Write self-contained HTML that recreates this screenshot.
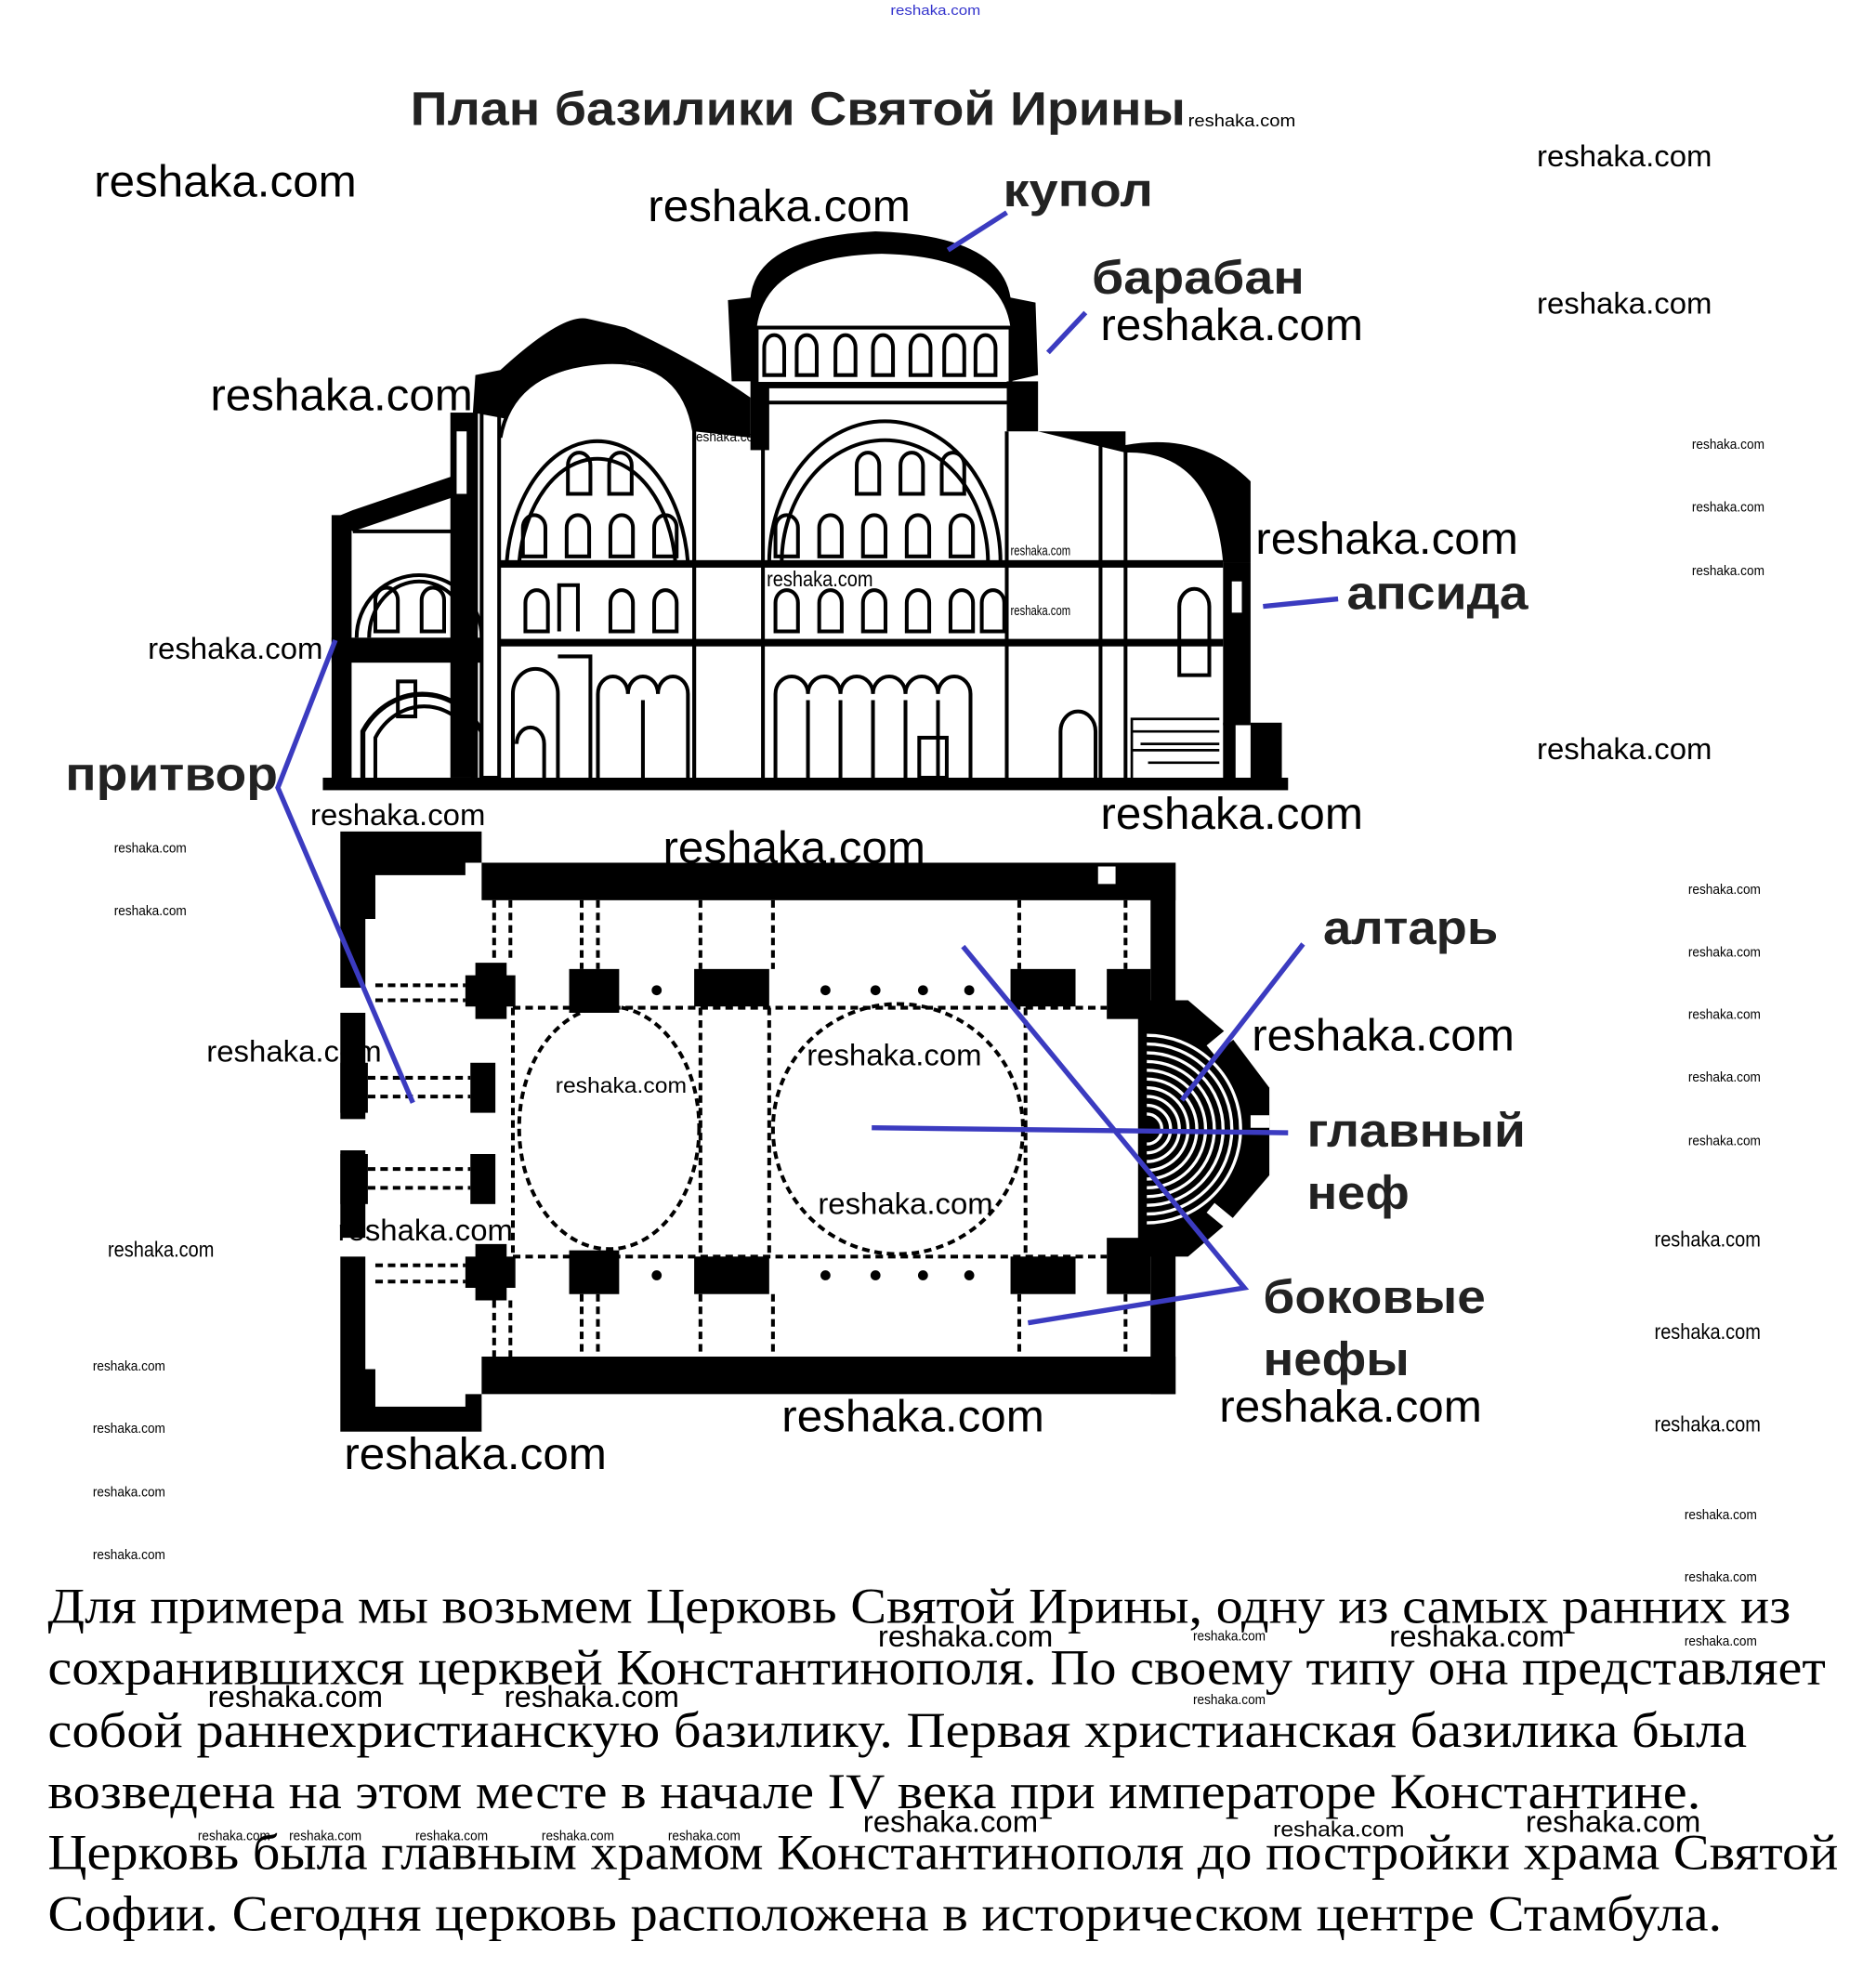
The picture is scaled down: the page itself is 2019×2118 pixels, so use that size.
<!DOCTYPE html>
<html><head><meta charset="utf-8"><style>
html,body{margin:0;padding:0;background:#fff;}
svg{display:block;}
.wl{font-family:"Liberation Sans",sans-serif;fill:#000;}
.lb{font-family:"Liberation Sans",sans-serif;font-weight:bold;fill:#222;}
.tx{font-family:"Liberation Serif",serif;fill:#000;font-size:40px;}
</style></head><body>
<svg width="2019" height="2118" viewBox="0 0 1500 1574" xmlns="http://www.w3.org/2000/svg">
<rect width="1500" height="1574" fill="#fff"/>
<text x="712" y="12" font-size="11" fill="#3333cc" class="wl" style="fill:#3333cc" textLength="72" lengthAdjust="spacingAndGlyphs">reshaka.com</text>
<text x="328" y="100" font-size="38" class="lb" textLength="620" lengthAdjust="spacingAndGlyphs">План базилики Святой Ирины</text>

<!-- ELEVATION -->
<g stroke="#000" fill="none" stroke-width="3">
<rect x="258" y="622" width="772" height="10" fill="#000" stroke="none"/>
<rect x="265" y="412" width="16" height="212" fill="#000" stroke="none"/>
<path d="M265 415 L282 408 L370 378 L370 395 L282 425 Z" fill="#000" stroke="none"/>
<line x1="282" y1="425" x2="370" y2="425"/>
<rect x="265" y="510" width="135" height="20" fill="#000" stroke="none"/>
<path d="M285 510 A50 50 0 0 1 385 510" stroke-width="3"/>
<path d="M295 510 A40 45 0 0 1 375 510"/>
<path d="M290 622 L290 585 A55 60 0 0 1 385 585 L385 622" stroke-width="4"/>
<path d="M300 622 L300 590 A45 50 0 0 1 378 590 L378 622"/>
<rect x="318" y="545" width="14" height="28"/>
<rect x="360" y="330" width="22" height="292" fill="#000" stroke="none"/>
<rect x="365" y="345" width="8" height="50" fill="#fff" stroke="none"/>
<rect x="385" y="330" width="14" height="292" fill="#fff" stroke-width="3"/>
<path d="M378 330 L380 300 L400 296 Q450 250 470 255 L500 262 Q560 290 600 318 L600 350 L555 345 Q540 280 480 290 Q415 300 405 335 Z" fill="#000" stroke="none"/>
<path d="M400 350 Q410 295 480 290 Q545 285 555 345 L555 622"/>
<path d="M405 450 A73 110 0 0 1 550 450"/>
<path d="M415 450 A63 95 0 0 1 540 450"/>
<rect x="600" y="300" width="15" height="60" fill="#000" stroke="none"/>
<line x1="555" y1="345" x2="555" y2="622"/>
<line x1="610" y1="345" x2="610" y2="622"/>
<path d="M582 240 L600 238 Q605 190 700 185 Q800 188 808 238 L828 242 L830 300 L808 305 L808 262 Q800 205 705 203 Q612 205 605 262 L605 305 L585 305 Z" fill="#000" stroke="none"/>
<rect x="605" y="262" width="203" height="45" fill="#fff"/>
<line x1="605" y1="308" x2="808" y2="308" stroke-width="5"/>
<line x1="610" y1="322" x2="805" y2="322"/>
<rect x="805" y="305" width="25" height="40" fill="#000" stroke="none"/>
<path d="M830 345 L900 345 L900 356 Q960 345 1000 385 L1000 450 L978 450 Q970 360 900 362" fill="#000" stroke="none"/>
<line x1="805" y1="345" x2="805" y2="622"/>
<line x1="880" y1="355" x2="880" y2="622"/>
<line x1="900" y1="360" x2="900" y2="622"/>
<rect x="978" y="450" width="22" height="130" fill="#000" stroke="none"/>
<rect x="985" y="465" width="8" height="25" fill="#fff" stroke="none"/>
<rect x="1000" y="578" width="25" height="46" fill="#000" stroke="none"/>
<rect x="978" y="578" width="10" height="46" fill="#000" stroke="none"/>
<path d="M905 622 L905 575 L975 575 M912 595 L975 595 M918 610 L975 610 M905 585 L975 585 M905 600 L975 600" stroke-width="2"/>
<path d="M943 540 L943 485 A12 14 0 0 1 967 485 L967 540 Z"/>
<path d="M848 622 L848 585 A14 16 0 0 1 876 585 L876 622"/>
<path d="M615 450 A90 110 0 0 1 800 450"/>
<path d="M625 450 A80 95 0 0 1 790 450"/>
<rect x="400" y="448" width="578" height="6" fill="#000" stroke="none"/>
<rect x="400" y="511" width="578" height="6" fill="#000" stroke="none"/>
</g>
<g stroke="#000" stroke-width="3" fill="none">
<path d="M454 395 V372 a9 10 0 0 1 18 0 V395 Z M487 395 V372 a9 10 0 0 1 18 0 V395 Z"/>
<path d="M418 445 V422 a9 10 0 0 1 18 0 V445 Z M453 445 V422 a9 10 0 0 1 18 0 V445 Z M488 445 V422 a9 10 0 0 1 18 0 V445 Z M523 445 V422 a9 10 0 0 1 18 0 V445 Z"/>
<path d="M420 505 V482 a9 10 0 0 1 18 0 V505 Z M488 505 V482 a9 10 0 0 1 18 0 V505 Z M523 505 V482 a9 10 0 0 1 18 0 V505 Z M447 505 V468 H462 V505"/>
<path d="M685 395 V372 a9 10 0 0 1 18 0 V395 Z M720 395 V372 a9 10 0 0 1 18 0 V395 Z M753 395 V372 a9 10 0 0 1 18 0 V395 Z"/>
<path d="M620 445 V422 a9 10 0 0 1 18 0 V445 Z M655 445 V422 a9 10 0 0 1 18 0 V445 Z M690 445 V422 a9 10 0 0 1 18 0 V445 Z M725 445 V422 a9 10 0 0 1 18 0 V445 Z M760 445 V422 a9 10 0 0 1 18 0 V445 Z"/>
<path d="M620 505 V482 a9 10 0 0 1 18 0 V505 Z M655 505 V482 a9 10 0 0 1 18 0 V505 Z M690 505 V482 a9 10 0 0 1 18 0 V505 Z M725 505 V482 a9 10 0 0 1 18 0 V505 Z M760 505 V482 a9 10 0 0 1 18 0 V505 Z M785 505 V482 a9 10 0 0 1 18 0 V505 Z"/>
<path d="M300 505 V480 a9 10 0 0 1 18 0 V505 Z M337 505 V480 a9 10 0 0 1 18 0 V505 Z"/>
<path d="M611 300 V278 a8 10 0 0 1 16 0 V300 Z M637 300 V278 a8 10 0 0 1 16 0 V300 Z M668 300 V278 a8 10 0 0 1 16 0 V300 Z M698 300 V278 a8 10 0 0 1 16 0 V300 Z M728 300 V278 a8 10 0 0 1 16 0 V300 Z M755 300 V278 a8 10 0 0 1 16 0 V300 Z M780 300 V278 a8 10 0 0 1 16 0 V300 Z"/>
<path d="M410 622 V555 a18 20 0 0 1 36 0 V622 M413 595 a10 12 0 0 1 22 0 V622 M446 525 H472 V622"/>
<path d="M478 622 V555 a12 14 0 0 1 24 0 a12 14 0 0 1 24 0 a12 14 0 0 1 24 0 V622 M514 560 V622"/>
<path d="M620 622 V555 a13 14 0 0 1 26 0 a13 14 0 0 1 26 0 a13 14 0 0 1 26 0 a13 14 0 0 1 26 0 a13 14 0 0 1 26 0 a13 14 0 0 1 26 0 V622 M646 560 V622 M672 560 V622 M698 560 V622 M724 560 V622 M750 560 V622"/>
<rect x="735" y="590" width="22" height="32"/>
</g>

<!-- PLAN -->
<g fill="#000">
<path d="M272 665 H385 V690 H372 V700 H300 V735 H292 V790 H272 Z"/>
<path d="M272 810 H292 V895 H272 Z M272 920 H292 V990 H272 Z"/>
<path d="M272 1005 H292 V1095 H300 V1125 H372 V1115 H385 V1145 H272 Z"/>
<rect x="385" y="690" width="555" height="30"/>
<rect x="385" y="1085" width="555" height="30"/>
<rect x="920" y="690" width="20" height="425"/>
<rect x="878" y="693" width="14" height="14" fill="#fff"/>
<path d="M372 780 H380 V770 H405 V780 H412 V805 H405 V815 H380 V805 H372 Z"/>
<path d="M455 775 H495 V810 H455 Z"/>
<rect x="555" y="775" width="60" height="30"/>
<rect x="808" y="775" width="52" height="30"/>
<rect x="885" y="775" width="35" height="40"/>
<path d="M372 1005 H380 V995 H405 V1005 H412 V1030 H405 V1040 H380 V1030 H372 Z"/>
<path d="M455 1000 H495 V1035 H455 Z"/>
<rect x="555" y="1005" width="60" height="30"/>
<rect x="808" y="1005" width="52" height="30"/>
<rect x="885" y="990" width="35" height="45"/>
<rect x="272" y="850" width="22" height="40"/><rect x="376" y="850" width="20" height="40"/>
<rect x="272" y="923" width="22" height="40"/><rect x="376" y="923" width="20" height="40"/>
<circle cx="525" cy="792" r="4"/><circle cx="660" cy="792" r="4"/><circle cx="700" cy="792" r="4"/><circle cx="738" cy="792" r="4"/><circle cx="775" cy="792" r="4"/>
<circle cx="525" cy="1020" r="4"/><circle cx="660" cy="1020" r="4"/><circle cx="700" cy="1020" r="4"/><circle cx="738" cy="1020" r="4"/><circle cx="775" cy="1020" r="4"/>
<path d="M910 800 H950 L985 830 L1015 870 V940 L985 975 L950 1005 H910 Z"/>
</g>
<g stroke="#000" fill="none">
<g stroke-width="3" stroke-dasharray="6 4">
<line x1="300" y1="788" x2="372" y2="788"/><line x1="300" y1="800" x2="372" y2="800"/>
<line x1="294" y1="862" x2="376" y2="862"/><line x1="294" y1="877" x2="376" y2="877"/>
<line x1="294" y1="935" x2="376" y2="935"/><line x1="294" y1="950" x2="376" y2="950"/>
<line x1="300" y1="1012" x2="372" y2="1012"/><line x1="300" y1="1025" x2="372" y2="1025"/>
<line x1="410" y1="806" x2="885" y2="806"/><line x1="410" y1="1005" x2="885" y2="1005"/>
<line x1="410" y1="806" x2="410" y2="1005"/><line x1="560" y1="806" x2="560" y2="1005"/>
<line x1="615" y1="806" x2="615" y2="1005"/><line x1="820" y1="806" x2="820" y2="1005"/>
<line x1="395" y1="720" x2="395" y2="770"/><line x1="408" y1="720" x2="408" y2="770"/>
<line x1="465" y1="720" x2="465" y2="775"/><line x1="478" y1="720" x2="478" y2="775"/>
<line x1="560" y1="720" x2="560" y2="775"/><line x1="618" y1="720" x2="618" y2="775"/>
<line x1="815" y1="720" x2="815" y2="775"/><line x1="900" y1="720" x2="900" y2="775"/>
<line x1="395" y1="1040" x2="395" y2="1085"/><line x1="408" y1="1040" x2="408" y2="1085"/>
<line x1="465" y1="1035" x2="465" y2="1085"/><line x1="478" y1="1035" x2="478" y2="1085"/>
<line x1="560" y1="1035" x2="560" y2="1085"/><line x1="618" y1="1035" x2="618" y2="1085"/>
<line x1="815" y1="1035" x2="815" y2="1085"/><line x1="900" y1="1035" x2="900" y2="1085"/>
<ellipse cx="487" cy="902" rx="72" ry="97"/>
<ellipse cx="718" cy="903" rx="100" ry="100"/>
</g>
<g stroke="#fff" stroke-width="2.5">
<path d="M917 828 A75 75 0 0 1 917 978"/><path d="M917 835 A68 68 0 0 1 917 971"/>
<path d="M917 842 A61 61 0 0 1 917 964"/><path d="M917 849 A54 54 0 0 1 917 957"/>
<path d="M917 856 A47 47 0 0 1 917 950"/><path d="M917 863 A40 40 0 0 1 917 943"/>
<path d="M917 870 A33 33 0 0 1 917 936"/><path d="M917 877 A26 26 0 0 1 917 929"/>
<path d="M917 884 A19 19 0 0 1 917 922"/><path d="M917 891 A12 12 0 0 1 917 915"/>
<line x1="1000" y1="897" x2="1015" y2="897" stroke-width="10"/>
<line x1="968" y1="840" x2="985" y2="826" stroke-width="10"/>
<line x1="968" y1="966" x2="985" y2="980" stroke-width="10"/>
</g>
</g>

<g stroke="#3b3bc0" stroke-width="4" fill="none">
<line x1="758" y1="200" x2="805" y2="170"/>
<line x1="838" y1="282" x2="868" y2="250"/>
<line x1="1010" y1="485" x2="1070" y2="479"/>
<polyline points="268,512 222,630 330,882"/>
<line x1="1042" y1="755" x2="945" y2="880"/>
<line x1="697" y1="902" x2="1030" y2="906"/>
<polyline points="770,757 995,1030 822,1058"/>
</g>

<text x="802" y="165" font-size="38" class="lb" textLength="120" lengthAdjust="spacingAndGlyphs">купол</text>
<text x="873" y="235" font-size="38" class="lb" textLength="170" lengthAdjust="spacingAndGlyphs">барабан</text>
<text x="1077" y="487" font-size="38" class="lb" textLength="145" lengthAdjust="spacingAndGlyphs">апсида</text>
<text x="52" y="632" font-size="38" class="lb" textLength="170" lengthAdjust="spacingAndGlyphs">притвор</text>
<text x="1058" y="755" font-size="38" class="lb" textLength="140" lengthAdjust="spacingAndGlyphs">алтарь</text>
<text x="1045" y="917" font-size="38" class="lb" textLength="175" lengthAdjust="spacingAndGlyphs">главный</text>
<text x="1045" y="967" font-size="38" class="lb" textLength="82" lengthAdjust="spacingAndGlyphs">неф</text>
<text x="1010" y="1050" font-size="38" class="lb" textLength="178" lengthAdjust="spacingAndGlyphs">боковые</text>
<text x="1010" y="1100" font-size="38" class="lb" textLength="117" lengthAdjust="spacingAndGlyphs">нефы</text>

<g class="wl" font-size="36">
<text x="75" y="157" textLength="210" lengthAdjust="spacingAndGlyphs">reshaka.com</text>
<text x="518" y="177" textLength="210" lengthAdjust="spacingAndGlyphs">reshaka.com</text>
<text x="880" y="272" textLength="210" lengthAdjust="spacingAndGlyphs">reshaka.com</text>
<text x="168" y="328" textLength="210" lengthAdjust="spacingAndGlyphs">reshaka.com</text>
<text x="1004" y="443" textLength="210" lengthAdjust="spacingAndGlyphs">reshaka.com</text>
<text x="880" y="663" textLength="210" lengthAdjust="spacingAndGlyphs">reshaka.com</text>
<text x="530" y="690" textLength="210" lengthAdjust="spacingAndGlyphs">reshaka.com</text>
<text x="1001" y="840" textLength="210" lengthAdjust="spacingAndGlyphs">reshaka.com</text>
<text x="625" y="1145" textLength="210" lengthAdjust="spacingAndGlyphs">reshaka.com</text>
<text x="975" y="1137" textLength="210" lengthAdjust="spacingAndGlyphs">reshaka.com</text>
<text x="275" y="1175" textLength="210" lengthAdjust="spacingAndGlyphs">reshaka.com</text>
</g>
<g class="wl" font-size="24">
<text x="1229" y="133" textLength="140" lengthAdjust="spacingAndGlyphs">reshaka.com</text>
<text x="1229" y="251" textLength="140" lengthAdjust="spacingAndGlyphs">reshaka.com</text>
<text x="1229" y="607" textLength="140" lengthAdjust="spacingAndGlyphs">reshaka.com</text>
<text x="118" y="527" textLength="140" lengthAdjust="spacingAndGlyphs">reshaka.com</text>
<text x="248" y="660" textLength="140" lengthAdjust="spacingAndGlyphs">reshaka.com</text>
<text x="165" y="849" textLength="140" lengthAdjust="spacingAndGlyphs">reshaka.com</text>
<text x="645" y="852" textLength="140" lengthAdjust="spacingAndGlyphs">reshaka.com</text>
<text x="654" y="971" textLength="140" lengthAdjust="spacingAndGlyphs">reshaka.com</text>
<text x="270" y="992" textLength="140" lengthAdjust="spacingAndGlyphs">reshaka.com</text>
<text x="702" y="1317" textLength="140" lengthAdjust="spacingAndGlyphs">reshaka.com</text>
<text x="1111" y="1317" textLength="140" lengthAdjust="spacingAndGlyphs">reshaka.com</text>
<text x="166" y="1365" textLength="140" lengthAdjust="spacingAndGlyphs">reshaka.com</text>
<text x="403" y="1365" textLength="140" lengthAdjust="spacingAndGlyphs">reshaka.com</text>
<text x="690" y="1465" textLength="140" lengthAdjust="spacingAndGlyphs">reshaka.com</text>
<text x="1220" y="1465" textLength="140" lengthAdjust="spacingAndGlyphs">reshaka.com</text>
</g>
<g class="wl" font-size="17">
<text x="444" y="874" textLength="105" lengthAdjust="spacingAndGlyphs">reshaka.com</text>
<text x="613" y="469" textLength="85" lengthAdjust="spacingAndGlyphs">reshaka.com</text>
<text x="1323" y="997" textLength="85" lengthAdjust="spacingAndGlyphs">reshaka.com</text>
<text x="1323" y="1071" textLength="85" lengthAdjust="spacingAndGlyphs">reshaka.com</text>
<text x="1323" y="1145" textLength="85" lengthAdjust="spacingAndGlyphs">reshaka.com</text>
<text x="86" y="1005" textLength="85" lengthAdjust="spacingAndGlyphs">reshaka.com</text>
<text x="1018" y="1469" textLength="105" lengthAdjust="spacingAndGlyphs">reshaka.com</text>
</g>
<g class="wl" font-size="11">
<text x="950" y="101" font-size="14" textLength="86" lengthAdjust="spacingAndGlyphs">reshaka.com</text>
<text x="553" y="353" textLength="58" lengthAdjust="spacingAndGlyphs">reshaka.com</text>
<text x="808" y="444" textLength="48" lengthAdjust="spacingAndGlyphs">reshaka.com</text>
<text x="808" y="492" textLength="48" lengthAdjust="spacingAndGlyphs">reshaka.com</text>
<text x="1353" y="359" textLength="58" lengthAdjust="spacingAndGlyphs">reshaka.com</text>
<text x="1353" y="409" textLength="58" lengthAdjust="spacingAndGlyphs">reshaka.com</text>
<text x="1353" y="460" textLength="58" lengthAdjust="spacingAndGlyphs">reshaka.com</text>
<text x="91" y="682" textLength="58" lengthAdjust="spacingAndGlyphs">reshaka.com</text>
<text x="91" y="732" textLength="58" lengthAdjust="spacingAndGlyphs">reshaka.com</text>
<text x="1350" y="715" textLength="58" lengthAdjust="spacingAndGlyphs">reshaka.com</text>
<text x="1350" y="765" textLength="58" lengthAdjust="spacingAndGlyphs">reshaka.com</text>
<text x="1350" y="815" textLength="58" lengthAdjust="spacingAndGlyphs">reshaka.com</text>
<text x="1350" y="865" textLength="58" lengthAdjust="spacingAndGlyphs">reshaka.com</text>
<text x="1350" y="916" textLength="58" lengthAdjust="spacingAndGlyphs">reshaka.com</text>
<text x="74" y="1096" textLength="58" lengthAdjust="spacingAndGlyphs">reshaka.com</text>
<text x="74" y="1146" textLength="58" lengthAdjust="spacingAndGlyphs">reshaka.com</text>
<text x="74" y="1197" textLength="58" lengthAdjust="spacingAndGlyphs">reshaka.com</text>
<text x="74" y="1247" textLength="58" lengthAdjust="spacingAndGlyphs">reshaka.com</text>
<text x="1347" y="1215" textLength="58" lengthAdjust="spacingAndGlyphs">reshaka.com</text>
<text x="1347" y="1265" textLength="58" lengthAdjust="spacingAndGlyphs">reshaka.com</text>
<text x="1347" y="1316" textLength="58" lengthAdjust="spacingAndGlyphs">reshaka.com</text>
<text x="954" y="1312" textLength="58" lengthAdjust="spacingAndGlyphs">reshaka.com</text>
<text x="954" y="1363" textLength="58" lengthAdjust="spacingAndGlyphs">reshaka.com</text>
<text x="158" y="1472" textLength="58" lengthAdjust="spacingAndGlyphs">reshaka.com</text>
<text x="231" y="1472" textLength="58" lengthAdjust="spacingAndGlyphs">reshaka.com</text>
<text x="332" y="1472" textLength="58" lengthAdjust="spacingAndGlyphs">reshaka.com</text>
<text x="433" y="1472" textLength="58" lengthAdjust="spacingAndGlyphs">reshaka.com</text>
<text x="534" y="1472" textLength="58" lengthAdjust="spacingAndGlyphs">reshaka.com</text>
</g>

<text class="tx" x="38" y="1298" textLength="1394" lengthAdjust="spacingAndGlyphs">Для примера мы возьмем Церковь Святой Ирины, одну из самых ранних из</text>
<text class="tx" x="38" y="1347" textLength="1422" lengthAdjust="spacingAndGlyphs">сохранившихся церквей Константинополя. По своему типу она представляет</text>
<text class="tx" x="38" y="1397" textLength="1359" lengthAdjust="spacingAndGlyphs">собой раннехристианскую базилику. Первая христианская базилика была</text>
<text class="tx" x="38" y="1446" textLength="1322" lengthAdjust="spacingAndGlyphs">возведена на этом месте в начале IV века при императоре Константине.</text>
<text class="tx" x="38" y="1495" textLength="1432" lengthAdjust="spacingAndGlyphs">Церковь была главным храмом Константинополя до постройки храма Святой</text>
<text class="tx" x="38" y="1544" textLength="1339" lengthAdjust="spacingAndGlyphs">Софии. Сегодня церковь расположена в историческом центре Стамбула.</text>
</svg>
</body></html>
